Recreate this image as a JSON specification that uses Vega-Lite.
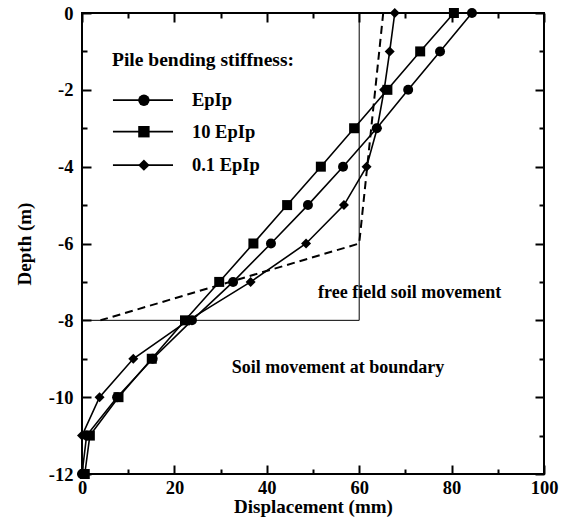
{
  "$schema": "https://vega.github.io/schema/vega-lite/v6.json",
  "width": 462,
  "height": 461,
  "autosize": "none",
  "padding": {"left": 82, "top": 13, "right": 23, "bottom": 52},
  "background": "white",
  "config": {"view": {"stroke": "black", "strokeWidth": 2}, "font": "Liberation Serif", "axis": {"grid": false}},
  "datasets": {
    "piles": [
      {"series": "EpIp", "disp": 84.4, "depth": 0},
      {"series": "EpIp", "disp": 77.5, "depth": -1},
      {"series": "EpIp", "disp": 70.6, "depth": -2},
      {"series": "EpIp", "disp": 63.8, "depth": -3},
      {"series": "EpIp", "disp": 56.5, "depth": -4},
      {"series": "EpIp", "disp": 48.9, "depth": -5},
      {"series": "EpIp", "disp": 40.9, "depth": -6},
      {"series": "EpIp", "disp": 32.7, "depth": -7},
      {"series": "EpIp", "disp": 23.8, "depth": -8},
      {"series": "EpIp", "disp": 15.3, "depth": -9},
      {"series": "EpIp", "disp": 7.6, "depth": -10},
      {"series": "EpIp", "disp": 1.0, "depth": -11},
      {"series": "EpIp", "disp": 0.0, "depth": -12},
      {"series": "10 EpIp", "disp": 80.5, "depth": 0},
      {"series": "10 EpIp", "disp": 73.2, "depth": -1},
      {"series": "10 EpIp", "disp": 66.1, "depth": -2},
      {"series": "10 EpIp", "disp": 58.9, "depth": -3},
      {"series": "10 EpIp", "disp": 51.7, "depth": -4},
      {"series": "10 EpIp", "disp": 44.4, "depth": -5},
      {"series": "10 EpIp", "disp": 37.1, "depth": -6},
      {"series": "10 EpIp", "disp": 29.7, "depth": -7},
      {"series": "10 EpIp", "disp": 22.3, "depth": -8},
      {"series": "10 EpIp", "disp": 15.1, "depth": -9},
      {"series": "10 EpIp", "disp": 7.9, "depth": -10},
      {"series": "10 EpIp", "disp": 1.7, "depth": -11},
      {"series": "10 EpIp", "disp": 0.6, "depth": -12},
      {"series": "0.1 EpIp", "disp": 67.7, "depth": 0},
      {"series": "0.1 EpIp", "disp": 66.6, "depth": -1},
      {"series": "0.1 EpIp", "disp": 65.4, "depth": -2},
      {"series": "0.1 EpIp", "disp": 63.9, "depth": -3},
      {"series": "0.1 EpIp", "disp": 61.6, "depth": -4},
      {"series": "0.1 EpIp", "disp": 56.7, "depth": -5},
      {"series": "0.1 EpIp", "disp": 48.5, "depth": -6},
      {"series": "0.1 EpIp", "disp": 36.5, "depth": -7},
      {"series": "0.1 EpIp", "disp": 23.0, "depth": -8},
      {"series": "0.1 EpIp", "disp": 11.1, "depth": -9},
      {"series": "0.1 EpIp", "disp": 3.8, "depth": -10},
      {"series": "0.1 EpIp", "disp": 0.0, "depth": -11},
      {"series": "0.1 EpIp", "disp": 0.0, "depth": -12}
    ],
    "freefield": [
      {"disp": 65.2, "depth": 0, "o": 1},
      {"disp": 60.0, "depth": -6, "o": 2},
      {"disp": 4.0, "depth": -8, "o": 3}
    ],
    "boundary": [
      {"disp": 60, "depth": 0, "o": 1},
      {"disp": 60, "depth": -8, "o": 2},
      {"disp": 0, "depth": -8, "o": 3}
    ],
    "legend": [
      {"series": "EpIp", "x1": 6.7, "x2": 19.7, "xm": 13.4, "xt": 23.8, "y": -2.27},
      {"series": "10 EpIp", "x1": 6.7, "x2": 19.7, "xm": 13.4, "xt": 23.8, "y": -3.09},
      {"series": "0.1 EpIp", "x1": 6.7, "x2": 19.7, "xm": 13.4, "xt": 23.8, "y": -3.96}
    ],
    "notes": [
      {"text": "Pile bending stiffness:", "x": 6.5, "y": -1.22, "big": 1},
      {"text": "free field soil movement", "x": 51.1, "y": -7.29, "big": 0},
      {"text": "Soil movement at boundary", "x": 32.4, "y": -9.24, "big": 0}
    ]
  },
  "resolve": {"axis": {"x": "independent", "y": "independent"}},
  "layer": [
    {
      "data": {"name": "boundary"},
      "mark": {"type": "line", "color": "black", "strokeWidth": 1},
      "encoding": {
        "x": {"field": "disp", "type": "quantitative", "scale": {"domain": [0, 100], "nice": false, "zero": false},
          "axis": {"orient": "bottom", "values": [0, 20, 40, 60, 80, 100],
            "labelExpr": "'' + datum.value", "ticks": false, "domain": false,
            "labelFont": "Liberation Serif", "labelFontWeight": "bold", "labelFontSize": 18.5, "labelColor": "black",
            "labelPadding": 4, "labelFlush": false, "labelOverlap": false,
            "title": "Displacement (mm)", "titleFont": "Liberation Serif", "titleFontWeight": "bold", "titleFontSize": 19, "titleColor": "black", "titlePadding": 1}},
        "y": {"field": "depth", "type": "quantitative", "scale": {"domain": [-12, 0], "nice": false, "zero": false},
          "axis": {"orient": "left", "values": [-12, -10, -8, -6, -4, -2, 0],
            "labelExpr": "'' + datum.value", "ticks": false, "domain": false,
            "labelFont": "Liberation Serif", "labelFontWeight": "bold", "labelFontSize": 18.5, "labelColor": "black",
            "labelPadding": 9, "labelFlush": false, "labelOverlap": false,
            "title": "Depth (m)", "titleFont": "Liberation Serif", "titleFontWeight": "bold", "titleFontSize": 19, "titleColor": "black", "titlePadding": 14}},
        "order": {"field": "o"}
      }
    },
    {
      "data": {"name": "freefield"},
      "mark": {"type": "line", "color": "black", "strokeWidth": 2, "strokeDash": [8, 5]},
      "encoding": {
        "x": {"field": "disp", "type": "quantitative",
          "axis": {"orient": "bottom", "values": [0, 20, 40, 60, 80, 100], "labels": false, "title": null, "domain": false,
            "tickSize": -9, "tickWidth": 2, "tickColor": "black"}},
        "y": {"field": "depth", "type": "quantitative",
          "axis": {"orient": "left", "values": [-12, -10, -8, -6, -4, -2, 0], "labels": false, "title": null, "domain": false,
            "tickSize": -9, "tickWidth": 2, "tickColor": "black"}},
        "order": {"field": "o"}
      }
    },
    {
      "data": {"name": "piles"},
      "mark": {"type": "line", "color": "black", "strokeWidth": 1.6},
      "encoding": {
        "x": {"field": "disp", "type": "quantitative",
          "axis": {"orient": "bottom", "values": [10, 30, 50, 70, 90], "labels": false, "title": null, "domain": false,
            "tickSize": -5, "tickWidth": 2, "tickColor": "black"}},
        "y": {"field": "depth", "type": "quantitative",
          "axis": {"orient": "left", "values": [-11, -9, -7, -5, -3, -1], "labels": false, "title": null, "domain": false,
            "tickSize": -5, "tickWidth": 2, "tickColor": "black"}},
        "detail": {"field": "series"},
        "order": {"field": "depth"}
      }
    },
    {
      "data": {"name": "piles"},
      "mark": {"type": "point", "filled": true, "color": "black", "opacity": 1, "size": 100},
      "encoding": {
        "x": {"field": "disp", "type": "quantitative",
          "axis": {"orient": "top", "values": [0, 20, 40, 60, 80, 100], "labels": false, "title": null, "domain": false,
            "tickSize": -9, "tickWidth": 2, "tickColor": "black"}},
        "y": {"field": "depth", "type": "quantitative",
          "axis": {"orient": "right", "values": [-12, -10, -8, -6, -4, -2, 0], "labels": false, "title": null, "domain": false,
            "tickSize": -9, "tickWidth": 2, "tickColor": "black"}},
        "shape": {"field": "series", "type": "nominal", "legend": null,
          "scale": {"domain": ["EpIp", "10 EpIp", "0.1 EpIp"], "range": ["circle", "square", "diamond"]}}
      }
    },
    {
      "data": {"name": "legend"},
      "mark": {"type": "rule", "color": "black", "strokeWidth": 1.8},
      "encoding": {
        "x": {"field": "x1", "type": "quantitative",
          "axis": {"orient": "top", "values": [10, 30, 50, 70, 90], "labels": false, "title": null, "domain": false,
            "tickSize": -5, "tickWidth": 2, "tickColor": "black"}},
        "x2": {"field": "x2"},
        "y": {"field": "y", "type": "quantitative",
          "axis": {"orient": "right", "values": [-11, -9, -7, -5, -3, -1], "labels": false, "title": null, "domain": false,
            "tickSize": -5, "tickWidth": 2, "tickColor": "black"}}
      }
    },
    {
      "data": {"name": "legend"},
      "mark": {"type": "point", "filled": true, "color": "black", "opacity": 1, "size": 130},
      "encoding": {
        "x": {"field": "xm", "type": "quantitative", "axis": null},
        "y": {"field": "y", "type": "quantitative", "axis": null},
        "shape": {"field": "series", "type": "nominal", "legend": null}
      }
    },
    {
      "data": {"name": "legend"},
      "mark": {"type": "text", "align": "left", "baseline": "middle", "font": "Liberation Serif", "fontWeight": "bold", "fontSize": 18.5, "color": "black"},
      "encoding": {
        "x": {"field": "xt", "type": "quantitative", "axis": null},
        "y": {"field": "y", "type": "quantitative", "axis": null},
        "text": {"field": "series"}
      }
    },
    {
      "data": {"name": "notes"},
      "mark": {"type": "text", "align": "left", "baseline": "middle", "font": "Liberation Serif", "fontWeight": "bold", "color": "black"},
      "encoding": {
        "x": {"field": "x", "type": "quantitative", "axis": null},
        "y": {"field": "y", "type": "quantitative", "axis": null},
        "text": {"field": "text"},
        "size": {"field": "big", "type": "nominal", "legend": null, "scale": {"domain": [0, 1], "range": [18, 19.5]}}
      }
    }
  ]
}
